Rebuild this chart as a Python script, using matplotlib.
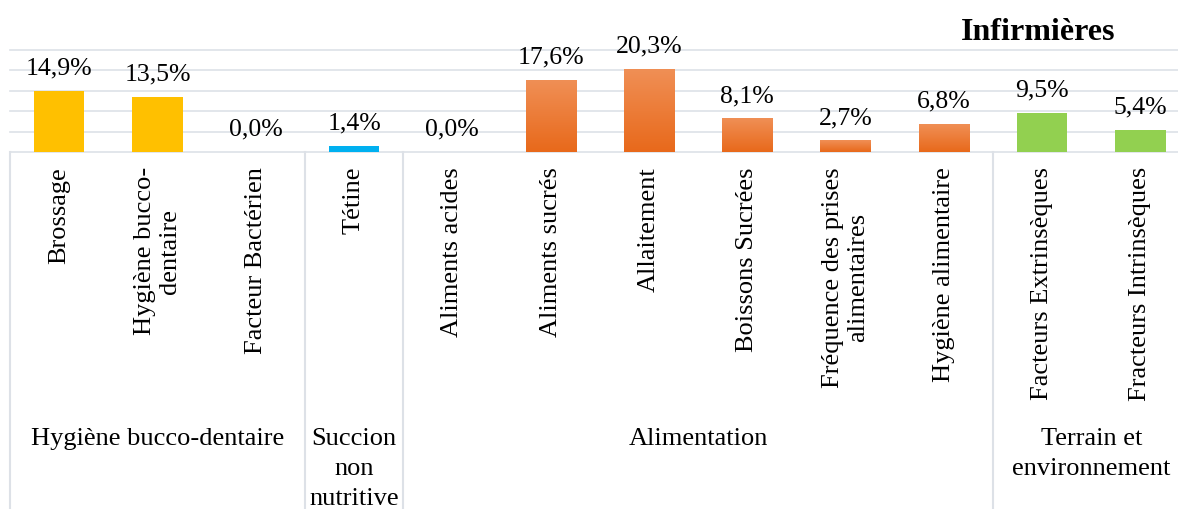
import matplotlib
matplotlib.use("Agg")
import matplotlib.pyplot as plt
import matplotlib.transforms as mtransforms
from matplotlib.lines import Line2D
from matplotlib.colors import LinearSegmentedColormap
import numpy as np

# ---- data ----
categories = ["Brossage", "Hygiène bucco-\ndentaire", "Facteur Bactérien",
              "Tétine",
              "Aliments acides", "Aliments sucrés", "Allaitement", "Boissons Sucrées",
              "Fréquence des prises\nalimentaires", "Hygiène alimentaire",
              "Facteurs Extrinsèques", "Fracteurs Intrinsèques"]
values = [14.9, 13.5, 0.0, 1.4, 0.0, 17.6, 20.3, 8.1, 2.7, 6.8, 9.5, 5.4]
groups = ["Hygiène bucco-dentaire", "Succion\nnon\nnutritive", "Alimentation",
          "Terrain et\nenvironnement"]
group_sizes = [3, 1, 6, 2]
group_colors = ["#FFC000", "#00B0F0", "#ED7D31", "#92D050"]
title = "Infirmières"

plt.rcParams['font.family'] = ['Liberation Serif', 'DejaVu Serif']

W, H = 1178, 509
fig = plt.figure(figsize=(W / 100, H / 100), dpi=100)
fig.patch.set_facecolor("white")

left_px, base_px, top_px = 10, 152, 50
cat_w_px = 98.3
ax = fig.add_axes([left_px / W, (H - base_px) / H, 12 * cat_w_px / W, (base_px - top_px) / H])
ax.set_xlim(0, 12)
ax.set_ylim(0, 25)
for s in ax.spines.values():
    s.set_visible(False)
ax.set_xticks([])
ax.set_yticks([])
grid_c = "#dde1e7"
for yv in [0, 5, 10, 15, 20, 25]:
    ax.axhline(yv, color=grid_c, lw=1.2, zorder=0, clip_on=False)

# colors per bar
bar_colors = []
for g, n in enumerate(group_sizes):
    bar_colors += [group_colors[g]] * n

x = np.arange(len(values)) + 0.5
bars = ax.bar(x, values, width=0.51, color=bar_colors, zorder=2)

# gradient for orange bars
grad = np.linspace(0, 1, 100).reshape(-1, 1)
cmap = LinearSegmentedColormap.from_list("og", ["#E8691B", "#F08F55"])
for b, c in zip(bars, bar_colors):
    if c == "#ED7D31" and b.get_height() > 0:
        bx, bw, bh = b.get_x(), b.get_width(), b.get_height()
        ax.imshow(grad, extent=(bx, bx + bw, 0, bh), origin="lower", cmap=cmap,
                  aspect="auto", zorder=3)
ax.set_xlim(0, 12)
ax.set_ylim(0, 25)

# data labels
for xi, v in zip(x, values):
    ax.annotate(f"{v:.1f}%".replace(".", ","), (xi, v), xytext=(0, 12),
                textcoords="offset points", ha="center", va="baseline",
                fontsize=18.5, color="#000000", annotation_clip=False)

# category labels
trans = mtransforms.blended_transform_factory(ax.transData, fig.transFigure)
for xi, lab in zip(x, categories):
    fig.text(xi, (H - 167) / H, lab, transform=trans, rotation=90, ha="center",
             va="top", multialignment="center", fontsize=19, color="#000000",
             linespacing=1.22)

# separators and group labels
bounds = np.concatenate([[0], np.cumsum(group_sizes)])
for bnd in bounds[:-1]:
    fig.add_artist(Line2D([bnd, bnd], [0, (H - base_px) / H], transform=trans,
                          color=grid_c, lw=1.5, clip_on=False))
for g, lab in enumerate(groups):
    cx = (bounds[g] + bounds[g + 1]) / 2
    fig.text(cx, (H - 428) / H, lab, transform=trans, ha="center", va="top",
             multialignment="center", fontsize=19, color="#000000", linespacing=1.48)

# title
fig.text(1038 / W, (H - 40) / H, title, ha="center", va="baseline",
         fontsize=23, fontweight="bold", color="#000000")

fig.savefig("out.png", dpi=100, facecolor="white")
